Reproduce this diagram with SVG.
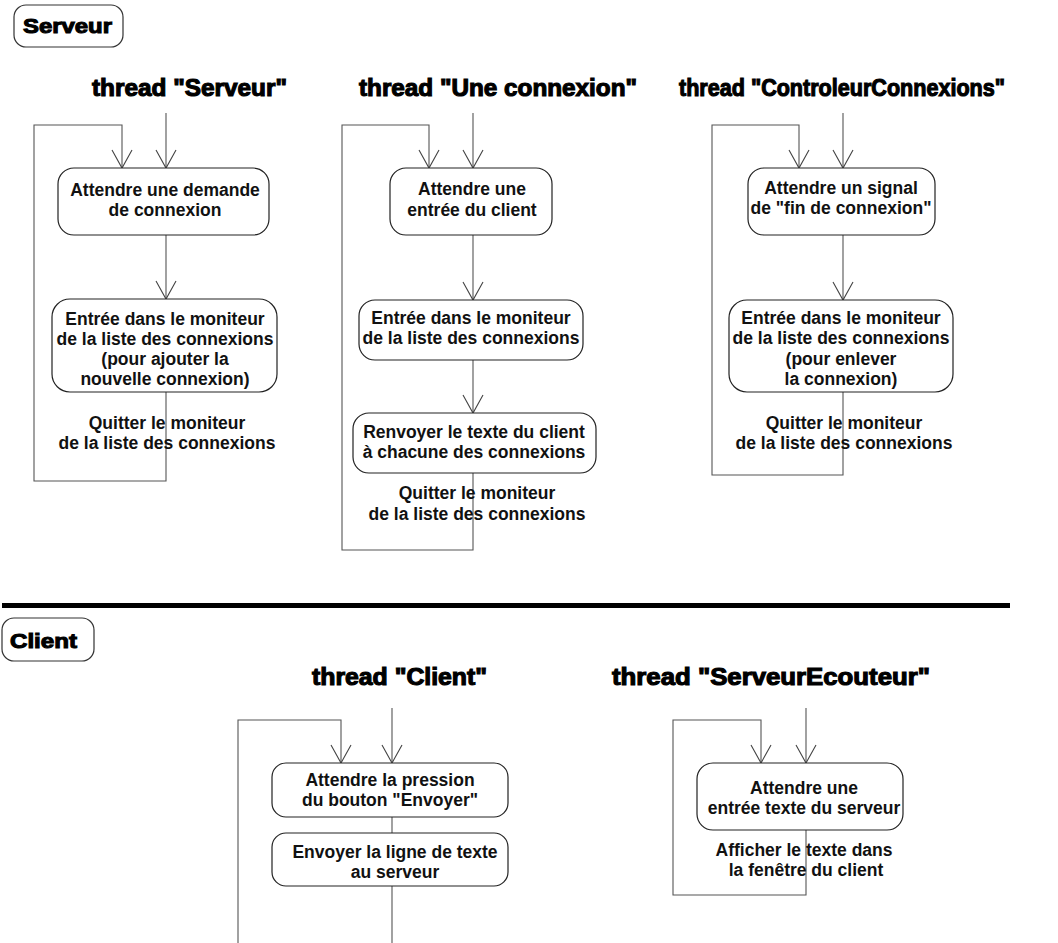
<svg xmlns="http://www.w3.org/2000/svg" width="1058" height="943" viewBox="0 0 1058 943">
  <style>
    .bg { fill: #ffffff; }
    .box { fill: #ffffff; stroke: #222; stroke-width: 1.2; }
    .tag { fill: #ffffff; stroke: #333; stroke-width: 1.2; }
    .t { font-family: "Liberation Sans", Arial, sans-serif; font-weight: bold; font-size: 17.5px; fill: #111; text-anchor: middle; }
    .title { font-family: "Liberation Sans", Arial, sans-serif; font-weight: 900; font-size: 23px; fill: #000; stroke: #000; stroke-width: 1.1; text-anchor: middle; }
    .tagt { font-family: "Liberation Sans", Arial, sans-serif; font-weight: 900; font-size: 21px; fill: #000; stroke: #000; stroke-width: 1.1; }
    .edge { fill: none; stroke: #555; stroke-width: 1.1; }
    .bar { fill: #000; }
  </style>
  <defs>
    <marker id="open" viewBox="-20 -12 22 24" refX="0" refY="0" markerWidth="22" markerHeight="24" markerUnits="userSpaceOnUse" orient="auto">
      <path d="M-18,-10 L0,0 L-18,10" fill="none" stroke="#444" stroke-width="1.1"/>
    </marker>
  </defs>

  <rect class="bg" x="0" y="0" width="1058" height="943"/>

  <!-- section tags -->
  <g id="tag-serveur">
    <rect class="tag" x="14" y="5" width="109" height="42" rx="12"/>
    <text class="tagt" x="23" y="33" textLength="89" lengthAdjust="spacingAndGlyphs">Serveur</text>
  </g>
  <rect id="separator" class="bar" x="2" y="603" width="1008" height="5"/>
  <g id="tag-client">
    <rect class="tag" x="2" y="618" width="92" height="43" rx="12"/>
    <text class="tagt" x="10" y="648" textLength="67" lengthAdjust="spacingAndGlyphs">Client</text>
  </g>

  <!-- thread titles -->
  <g id="titles">
    <text class="title" x="189.5" y="96" textLength="195" lengthAdjust="spacingAndGlyphs">thread "Serveur"</text>
    <text class="title" x="498" y="96" textLength="278" lengthAdjust="spacingAndGlyphs">thread "Une connexion"</text>
    <text class="title" x="842" y="96" textLength="326" lengthAdjust="spacingAndGlyphs">thread "ControleurConnexions"</text>
    <text class="title" x="399.5" y="685" textLength="175" lengthAdjust="spacingAndGlyphs">thread "Client"</text>
    <text class="title" x="771" y="685" textLength="318" lengthAdjust="spacingAndGlyphs">thread "ServeurEcouteur"</text>
  </g>

  <!-- connectors -->
  <g id="connectors">
    <!-- thread Serveur -->
    <path class="edge" d="M166,113 V168" marker-end="url(#open)"/>
    <path class="edge" d="M166,235 V299" marker-end="url(#open)"/>
    <path class="edge" d="M166,392 V481 H34 V125 H122 V168" marker-end="url(#open)"/>
    <!-- thread Une connexion -->
    <path class="edge" d="M473,113 V168" marker-end="url(#open)"/>
    <path class="edge" d="M473,235 V300" marker-end="url(#open)"/>
    <path class="edge" d="M473,360 V413" marker-end="url(#open)"/>
    <path class="edge" d="M473,473 V550 H342 V125 H429 V168" marker-end="url(#open)"/>
    <!-- thread ControleurConnexions -->
    <path class="edge" d="M843,113 V168" marker-end="url(#open)"/>
    <path class="edge" d="M843,235 V300" marker-end="url(#open)"/>
    <path class="edge" d="M843,392 V475 H712 V125 H799 V168" marker-end="url(#open)"/>
    <!-- thread Client -->
    <path class="edge" d="M392,708 V763" marker-end="url(#open)"/>
    <path class="edge" d="M392,817 V833"/>
    <path class="edge" d="M392,886 V943"/>
    <path class="edge" d="M238,943 V720 H341 V763" marker-end="url(#open)"/>
    <!-- thread ServeurEcouteur -->
    <path class="edge" d="M806,708 V763" marker-end="url(#open)"/>
    <path class="edge" d="M806,830 V895 H673 V720 H761 V763" marker-end="url(#open)"/>
  </g>

  <!-- thread Serveur -->
  <g id="srv-attendre">
    <rect class="box" x="58" y="168" width="211" height="67" rx="16"/>
    <text class="t" x="165" y="196">Attendre une demande</text>
    <text class="t" x="165" y="216">de connexion</text>
  </g>
  <g id="srv-entree">
    <rect class="box" x="52" y="299" width="225" height="93" rx="18"/>
    <text class="t" x="165" y="325">Entrée dans le moniteur</text>
    <text class="t" x="165" y="345">de la liste des connexions</text>
    <text class="t" x="165" y="365">(pour ajouter la</text>
    <text class="t" x="165" y="385">nouvelle connexion)</text>
  </g>
  <g id="srv-quitter">
    <text class="t" x="167" y="429">Quitter le moniteur</text>
    <text class="t" x="167" y="449">de la liste des connexions</text>
  </g>

  <!-- thread Une connexion -->
  <g id="cnx-attendre">
    <rect class="box" x="390" y="168" width="162" height="67" rx="16"/>
    <text class="t" x="472" y="195">Attendre une</text>
    <text class="t" x="472" y="216">entrée du client</text>
  </g>
  <g id="cnx-entree">
    <rect class="box" x="359" y="300" width="224" height="60" rx="16"/>
    <text class="t" x="471" y="324">Entrée dans le moniteur</text>
    <text class="t" x="471" y="344">de la liste des connexions</text>
  </g>
  <g id="cnx-renvoyer">
    <rect class="box" x="353" y="413" width="243" height="60" rx="16"/>
    <text class="t" x="474" y="438">Renvoyer le texte du client</text>
    <text class="t" x="474" y="458">à chacune des connexions</text>
  </g>
  <g id="cnx-quitter">
    <text class="t" x="477" y="499">Quitter le moniteur</text>
    <text class="t" x="477" y="520">de la liste des connexions</text>
  </g>

  <!-- thread ControleurConnexions -->
  <g id="ctl-attendre">
    <rect class="box" x="748" y="168" width="187" height="67" rx="16"/>
    <text class="t" x="841" y="194">Attendre un signal</text>
    <text class="t" x="841" y="214">de "fin de connexion"</text>
  </g>
  <g id="ctl-entree">
    <rect class="box" x="729" y="300" width="224" height="92" rx="18"/>
    <text class="t" x="841" y="324">Entrée dans le moniteur</text>
    <text class="t" x="841" y="344">de la liste des connexions</text>
    <text class="t" x="841" y="365">(pour enlever</text>
    <text class="t" x="841" y="385">la connexion)</text>
  </g>
  <g id="ctl-quitter">
    <text class="t" x="844" y="429">Quitter le moniteur</text>
    <text class="t" x="844" y="449">de la liste des connexions</text>
  </g>

  <!-- thread Client -->
  <g id="cli-attendre">
    <rect class="box" x="272" y="763" width="236" height="54" rx="14"/>
    <text class="t" x="390" y="786">Attendre la pression</text>
    <text class="t" x="390" y="806">du bouton "Envoyer"</text>
  </g>
  <g id="cli-envoyer">
    <rect class="box" x="272" y="833" width="236" height="53" rx="14"/>
    <text class="t" x="395" y="858">Envoyer la ligne de texte</text>
    <text class="t" x="395" y="878">au serveur</text>
  </g>

  <!-- thread ServeurEcouteur -->
  <g id="ecr-attendre">
    <rect class="box" x="697" y="763" width="206" height="67" rx="16"/>
    <text class="t" x="804" y="794">Attendre une</text>
    <text class="t" x="804" y="814">entrée texte du serveur</text>
  </g>
  <g id="ecr-afficher">
    <text class="t" x="804" y="856">Afficher le texte dans</text>
    <text class="t" x="806" y="876">la fenêtre du client</text>
  </g>
</svg>
